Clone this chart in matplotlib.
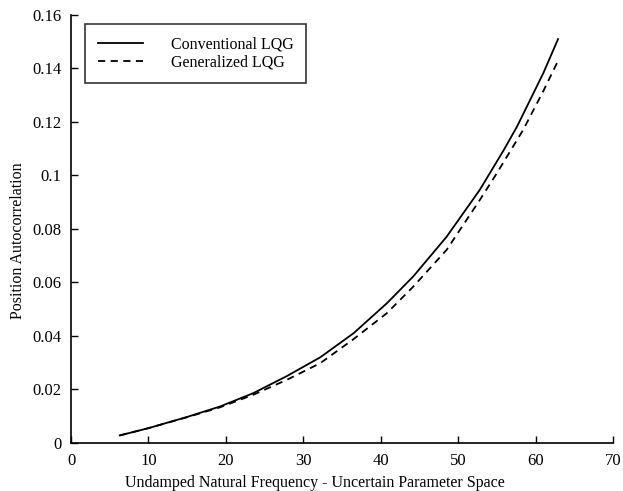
# Position autocorrelation vs natural frequency, conventional vs generalized LQG

from matplotlib import pyplot as plt

plt.rcParams['font.family'] = ['Liberation Serif', 'DejaVu Serif']

# values
x_conv = [6.3, 10, 15, 19.25, 23.55, 27.9, 32.2, 36.5, 40.8, 44.2, 48.5,
          52.8, 55.9, 57.6, 61.0, 62.9]
y_conv = [0.0028, 0.0055, 0.0097, 0.0136, 0.0186, 0.0250, 0.0320, 0.0410,
          0.0522, 0.0622, 0.0770, 0.0946, 0.1095, 0.1182, 0.1382, 0.1509]

x_gen = [6.3, 10, 15, 19.25, 23.55, 27.9, 32.2, 36.5, 40.8, 44.2, 48.5,
         52.8, 55.0, 58.4, 61.0, 62.8]
y_gen = [0.0028, 0.0055, 0.0096, 0.0133, 0.0180, 0.0236, 0.0298, 0.0388,
         0.0485, 0.0584, 0.0721, 0.0908, 0.1008, 0.1170, 0.1315, 0.1422]

x_ticks = [0, 10, 20, 30, 40, 50, 60, 70]
y_ticks = [0, 0.02, 0.04, 0.06, 0.08, 0.1, 0.12, 0.14, 0.16]
y_tick_labels = ["0", "0.02", "0.04", "0.06", "0.08", "0.1", "0.12", "0.14", "0.16"]

fig = plt.figure(figsize=(6.23, 4.91), dpi=100)
ax = fig.add_axes([0.114, 0.098, 0.87, 0.872])

ax.plot(x_conv, y_conv, color="black", linewidth=1.3, label="Conventional LQG")
ax.plot(x_gen, y_gen, color="black", linewidth=1.3, linestyle=(0, (4, 3)),
        label="Generalized LQG")

ax.set_xlim(0, 70)
ax.set_ylim(0, 0.16)
ax.set_xticks(x_ticks)
ax.set_yticks(y_ticks)
ax.set_yticklabels(y_tick_labels)
ax.tick_params(direction="in", length=5, width=1, labelsize=12, colors="black", pad=7)

for side in ["top", "right"]:
    ax.spines[side].set_visible(False)
for side in ["left", "bottom"]:
    ax.spines[side].set_linewidth(1.2)

ax.set_xlabel("Undamped Natural Frequency - Uncertain Parameter Space", fontsize=11.5, labelpad=3)
ax.xaxis.set_label_coords(0.45, -0.075)
ax.set_ylabel("Position Autocorrelation", fontsize=11.5, labelpad=2)
ax.yaxis.set_label_coords(-0.083, 0.472)

leg = ax.legend(loc="upper left", bbox_to_anchor=(0.026, 0.979), fontsize=11.5,
                frameon=True, fancybox=False, handlelength=2.8, handletextpad=1.75,
                borderpad=0.8, labelspacing=0.1, borderaxespad=0)
leg.get_frame().set_edgecolor("black")
leg.get_frame().set_linewidth(1.2)

plt.savefig("out.png", dpi=100)
